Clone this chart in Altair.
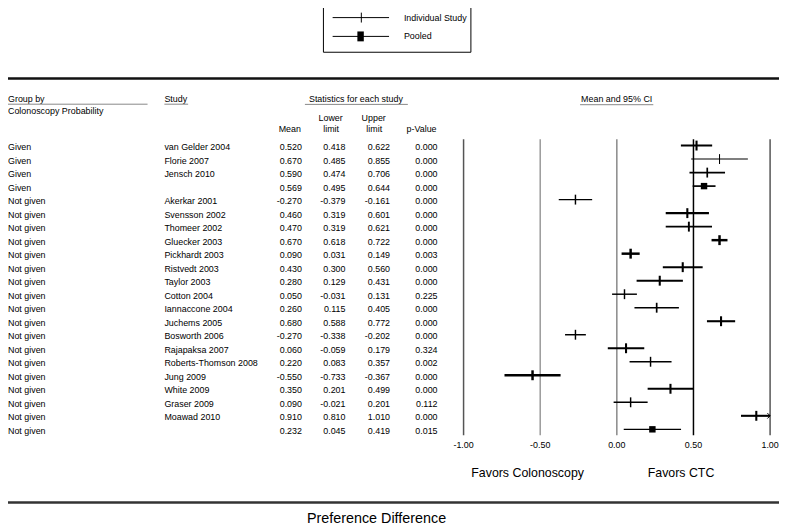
import altair as alt
import pandas as pd

# ---------------- data ----------------
groups = ["Given"] * 4 + ["Not given"] * 18
studies = ["van Gelder 2004", "Florie 2007", "Jensch 2010", "",
           "Akerkar 2001", "Svensson 2002", "Thomeer 2002", "Gluecker 2003",
           "Pickhardt 2003", "Ristvedt 2003", "Taylor 2003", "Cotton 2004",
           "Iannaccone 2004", "Juchems 2005", "Bosworth 2006", "Rajapaksa 2007",
           "Roberts-Thomson 2008", "Jung 2009", "White 2009", "Graser 2009",
           "Moawad 2010", ""]
means = [0.520, 0.670, 0.590, 0.569, -0.270, 0.460, 0.470, 0.670, 0.090, 0.430,
         0.280, 0.050, 0.260, 0.680, -0.270, 0.060, 0.220, -0.550, 0.350, 0.090,
         0.910, 0.232]
lowers = [0.418, 0.485, 0.474, 0.495, -0.379, 0.319, 0.319, 0.618, 0.031, 0.300,
          0.129, -0.031, 0.115, 0.588, -0.338, -0.059, 0.083, -0.733, 0.201, -0.021,
          0.810, 0.045]
uppers = [0.622, 0.855, 0.706, 0.644, -0.161, 0.601, 0.621, 0.722, 0.149, 0.560,
          0.431, 0.131, 0.405, 0.772, -0.202, 0.179, 0.357, -0.367, 0.499, 0.201,
          1.010, 0.419]
pvalues = [0.000, 0.000, 0.000, 0.000, 0.000, 0.000, 0.000, 0.000, 0.003, 0.000,
           0.000, 0.225, 0.000, 0.000, 0.000, 0.324, 0.002, 0.000, 0.000, 0.112,
           0.000, 0.015]
pooled = [False, False, False, True] + [False] * 17 + [True]
# relative study weight (drawn as line thickness in the reference)
weights = [2.5, 1.2, 2.0, 2.0, 1.7, 2.5, 2.3, 3.0, 3.0, 2.5, 2.5, 1.7, 2.0, 2.5,
           1.7, 2.5, 1.7, 3.0, 2.5, 1.7, 2.5, 1.5]
tick_values = [-1.0, -0.5, 0.0, 0.5, 1.0]
tick_colors = ["#555555", "#999999", "#888888", "#000000", "#555555"]

FONT = "Liberation Sans"
W, H = 779, 520

df = pd.DataFrame({
    "group": groups, "study": studies, "mean": means, "lower": lowers,
    "upper": uppers, "p": pvalues, "pooled": pooled, "w": weights,
})
df["row"] = range(len(df))
df["mean_txt"] = [f"{v:.3f}" for v in means]
df["lower_txt"] = [f"{v:.3f}" for v in lowers]
df["upper_txt"] = [f"{v:.3f}" for v in uppers]
df["p_txt"] = [f"{v:.3f}" for v in pvalues]

ticks_df = pd.DataFrame({"v": tick_values,
                         "lab": [f"{v:.2f}" for v in tick_values]})

xscale = alt.Scale(domain=[-1, 1], range=[460.3, 770], nice=False, zero=False)
yscale = alt.Scale(domain=[0, 21], range=[136.3, 423], nice=False, zero=False)
wscale = alt.Scale(domain=[1, 3], range=[0.9, 2.5])

base = alt.Chart(df)
X = lambda f: alt.X(f, type="quantitative", scale=xscale, axis=None)
Y = alt.Y("row:Q", scale=yscale, axis=None)
SW = alt.StrokeWidth("w:Q", scale=wscale, legend=None)

one = alt.Data(values=[{}])


def label(text, x, y, size=9, align="left", color="black"):
    return alt.Chart(one).mark_text(
        text=text, align=align, baseline="middle", fontSize=size, font=FONT,
        color=color).encode(x=alt.value(x), y=alt.value(y))


def hline(x1, x2, y, color="#888888", width=1.0):
    return alt.Chart(one).mark_rule(color=color, strokeWidth=width).encode(
        x=alt.value(x1), x2=alt.value(x2), y=alt.value(y))


layers = []

# reference vertical lines
layers.append(alt.Chart(ticks_df).mark_rule(strokeWidth=1.5).encode(
    x=X("v"), y=alt.value(130), y2=alt.value(429),
    color=alt.Color("v:O", scale=alt.Scale(domain=tick_values, range=tick_colors),
                    legend=None)))

# CI lines
layers.append(base.mark_rule(color="black").transform_calculate(
    upper_c="min(datum.upper, 1)").encode(
    x=X("lower"), x2="upper_c:Q", y=Y, strokeWidth=SW))

# mean ticks for individual studies
layers.append(base.mark_point(shape="M0,-1L0,1", filled=False, color="black",
                              size=100, opacity=1).transform_filter(
    "!datum.pooled").encode(x=X("mean"), y=Y, strokeWidth=SW))

# pooled squares
layers.append(base.mark_square(size=42, color="black", opacity=1).transform_filter(
    "datum.pooled").encode(x=X("mean"), y=Y))

# arrow for CI beyond the axis
layers.append(base.mark_point(shape="M-1,-1L0,0L-1,1", filled=False, color="black",
                              size=30, strokeWidth=1, opacity=1).transform_filter(
    "datum.upper > 1").transform_calculate(upper_c="min(datum.upper, 1)").encode(
    x=X("upper_c"), y=Y))


# table columns
def col(field, x, align):
    return base.mark_text(align=align, baseline="middle", dy=1.5, fontSize=9,
                          font=FONT, color="black").encode(
        x=alt.value(x), y=Y, text=f"{field}:N")


layers += [col("group", 0, "left"), col("study", 158, "left"),
           col("mean_txt", 297, "right"), col("lower_txt", 341, "right"),
           col("upper_txt", 386, "right"), col("p_txt", 434, "right")]

# tick labels
layers.append(alt.Chart(ticks_df).mark_text(
    fontSize=9, font=FONT, color="black", baseline="middle").encode(
    x=X("v"), y=alt.value(439), text="lab:N"))

# headers
layers += [
    label("Group by", 0, 89), label("Colonoscopy Probability", 0, 101),
    label("Study", 158, 89),
    label("Statistics for each study", 351.5, 89, align="center"),
    label("Mean", 296, 120, align="right"),
    label("Lower", 326, 108, align="center"), label("limit", 326.5, 120, align="center"),
    label("Upper", 369.5, 108, align="center"), label("limit", 370, 120, align="center"),
    label("p-Value", 433, 120, align="right"),
    label("Mean and 95% CI", 615, 89, align="center"),
    hline(0, 141, 94.5), hline(158, 182, 94.5), hline(300, 404, 94.7),
    hline(578, 652, 95),
    hline(0, W, 68.5, color="#111111", width=2.5),
    hline(0, W, 497, color="#333333", width=2.5),
    label("Favors Colonoscopy", 525, 467, size=12.5, align="center"),
    label("Favors CTC", 680, 467, size=12.5, align="center"),
    label("Preference Difference", 302, 514, size=14.5),
]

# legend box
layers.append(alt.Chart(one).mark_rect(fillOpacity=0, stroke="black",
                                       strokeWidth=1).encode(
    x=alt.value(318.7), x2=alt.value(467.7), y=alt.value(-10), y2=alt.value(42)))
layers += [
    hline(328, 385, 7, color="black", width=1),
    alt.Chart(one).mark_rule(color="black", strokeWidth=1).encode(
        x=alt.value(357), y=alt.value(2), y2=alt.value(12)),
    label("Individual Study", 400, 7),
    hline(328, 385, 26, color="black", width=1),
    alt.Chart(one).mark_rect(color="black").encode(
        x=alt.value(353), x2=alt.value(359.5), y=alt.value(21), y2=alt.value(31)),
    label("Pooled", 400, 26),
]

chart = alt.layer(*layers).properties(
    width=W, height=H, padding=0, autosize="none"
).configure_view(stroke=None)

chart.save("out.html", embed_options={"renderer": "svg", "actions": False})
